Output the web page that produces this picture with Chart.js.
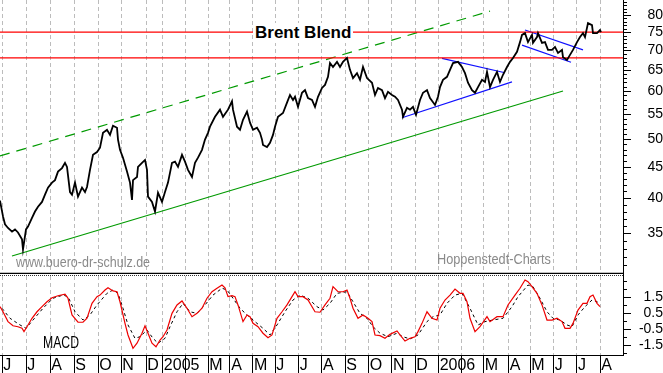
<!DOCTYPE html>
<html><head><meta charset="utf-8">
<script src="https://cdn.jsdelivr.net/npm/chart.js@4/dist/chart.umd.min.js"></script>
<style>
html,body{margin:0;padding:0;background:#fff;}
#wrap{position:relative;width:663px;height:373px;overflow:hidden;background:#fff}
canvas{position:absolute;left:0}
#c1{top:0}
#c2{top:274px}
.t{position:absolute;white-space:nowrap;line-height:1;transform-origin:0 0}
#title{left:253px;top:23px;padding:0 2px;background:#fff;font:bold 17px "Liberation Sans",Arial,sans-serif;color:#000}
#src1{left:16px;top:253px;font:15px "Liberation Sans Narrow","Liberation Sans",sans-serif;color:#8a8a8a}
#src2{left:437px;top:250px;font:15px "Liberation Sans Narrow","Liberation Sans",sans-serif;color:#8a8a8a}
#macdLbl{left:43px;top:334px;font:16px "Liberation Sans Narrow","Liberation Sans",sans-serif;color:#000}
</style></head><body>
<div id="wrap">
<canvas id="c1" width="663" height="274"></canvas>
<canvas id="c2" width="663" height="99"></canvas>
<div class="t" id="title">Brent Blend</div>
<div class="t" id="src1" data-w="134">www.buero-dr-schulz.de</div>
<div class="t" id="src2" data-w="114">Hoppenstedt-Charts</div>
<div class="t" id="macdLbl" data-w="36">MACD</div>
</div>
<script>
const firstSession = 0;
const lastSession = 623;
const monthPos = [2,26,50,74,98,121,146,162.5,185,208,230,252.7,275,298.3,321.7,345,368.3,391.7,415,438.3,461.7,483.3,508.3,530,553.3,576.7,600];
const monthLabels = ['J','J','A','S','O','N','D','2005','','M','A','M','J','J','A','S','O','N','D','2006','','M','A','M','J','J','A'];
const sessions = [0,3,5,8,12,15,18,22,23,26,28,32,35,38,42,45,48,52,55,58,62,65,67,70,72,75,78,82,85,87,90,93,97,100,103,107,110,113,117,118,120,123,127,130,132,133,137,138,142,145,147,148,152,155,158,162,165,168,172,175,178,182,185,188,192,195,198,202,205,208,210,215,220,223,228,232,233,237,240,243,247,250,253,257,260,262,263,267,270,273,275,278,283,287,290,293,295,298,302,305,308,312,315,318,322,325,328,330,333,337,340,343,347,350,353,357,360,363,367,372,375,378,382,385,388,392,395,398,402,403,407,410,413,416,420,423,427,430,435,438,440,443,447,450,453,458,462,465,468,472,475,478,482,485,487,490,493,497,500,503,507,510,513,517,520,522,525,528,532,533,537,538,542,545,548,552,555,558,562,563,567,570,573,577,580,583,585,588,592,593,597,598,600,601];
const brent = [39.6,37.3,36.2,35.7,35.2,35.5,35.1,34.2,32.9,35.5,35.9,37.1,38.0,38.7,39.4,40.5,41.6,42.4,42.8,44.2,44.8,45.7,45.0,40.9,40.5,42.4,40.2,41.6,40.9,41.7,44.5,47.1,47.6,48.4,51.2,51.8,50.8,52.6,52.2,49.9,48.0,46.6,44.2,42.4,39.7,42.8,43.3,45.0,45.7,46.2,44.5,40.2,39.4,38.0,40.8,39.4,40.9,42.4,45.7,45.9,45.0,47.1,45.9,44.5,43.3,45.7,46.6,48.0,49.9,51.2,52.4,54.4,55.9,54.4,55.9,57.7,55.9,52.4,51.8,53.8,55.5,53.2,51.8,52.2,51.2,49.9,48.9,48.5,49.3,50.8,52.4,54.4,55.2,57.4,59.1,58.0,58.7,56.5,59.6,60.2,58.4,58.0,56.5,58.7,60.7,61.4,63.3,66.7,65.7,67.0,65.7,67.0,68.0,65.0,63.0,64.2,62.6,65.7,63.0,61.9,59.1,60.7,60.2,58.4,59.8,59.1,58.7,58.0,55.9,54.4,56.3,55.9,56.5,54.8,58.0,59.6,60.2,58.4,56.9,58.7,60.9,62.6,63.3,65.0,66.7,67.0,65.7,64.2,61.9,60.2,59.6,60.9,62.6,62.1,64.5,60.9,62.6,64.5,62.1,63.8,65.7,67.0,68.0,69.6,72.2,74.2,74.7,72.2,74.2,72.0,73.6,74.7,72.0,72.2,70.1,70.1,70.9,69.3,70.1,68.2,67.5,68.8,70.1,72.2,73.6,74.7,73.6,77.6,77.0,74.7,74.7,75.0,75.6,75.0];
const resistanceLevels = [75, 68];
const upperChannelX = [0, 490];
const upperChannelY = [46.9, 81.2];
const lowerChannelX = [12, 563];
const lowerChannelY = [32.1, 60.0];
const blueLowerX = [402, 512];
const blueLowerY = [54.2, 62.1];
const blueUpperX = [442, 505];
const blueUpperY = [67.9, 64.3];
const flagUpperX = [525, 583];
const flagUpperY = [75.6, 70.1];
const flagLowerX = [522, 571];
const flagLowerY = [71.4, 66.9];
const macdX = [0,3,8,13,18,22,24,27,32,37,42,47,52,58,65,68,72,78,83,87,92,97,100,105,108,113,117,120,125,128,133,137,142,145,148,152,156,160,163,167,172,177,182,187,192,197,202,207,212,217,222,225,228,232,235,238,243,247,250,253,258,263,268,272,277,282,287,292,295,298,303,308,315,320,325,330,333,338,343,347,350,353,358,363,368,372,375,380,385,390,397,400,405,410,415,418,422,427,432,437,440,445,450,455,460,463,467,470,475,480,487,490,497,503,508,515,520,525,528,532,537,542,547,552,557,562,565,570,573,578,583,587,590,593,597,600];
const macd = [0.91,0.59,-0.03,-0.29,-0.35,-0.45,-0.66,-0.35,0.18,0.59,0.91,1.22,1.47,1.60,1.69,1.44,0.39,-0.07,-0.07,0.18,1.12,1.54,1.64,1.96,2.10,1.90,1.85,1.22,-0.14,-0.87,-1.71,-1.39,-0.76,-0.29,-0.76,-1.39,-1.61,-1.19,-0.98,-0.56,0.49,1.02,1.27,0.81,0.28,0.49,0.81,1.44,1.85,2.07,2.27,2.10,1.54,1.60,1.54,1.02,-0.03,0.39,0.28,-0.14,-0.35,-0.76,-1.04,-0.87,0.18,0.59,1.02,1.54,1.85,1.54,1.54,1.33,0.59,0.56,1.02,1.44,2.17,1.85,1.85,1.96,1.44,0.81,0.18,0.39,0.18,-0.03,-0.87,-0.91,-1.08,-0.83,-0.62,-0.87,-1.25,-1.08,-0.98,-0.66,-0.14,0.59,0.18,0.07,0.81,1.33,1.64,2.02,1.75,1.75,1.22,0.18,-0.66,-0.35,0.28,-0.03,0.28,0.28,1.02,1.64,2.07,2.59,2.48,2.17,1.75,1.02,0.07,0.07,0.18,-0.03,-0.45,-0.45,-0.14,0.70,1.12,1.12,1.54,1.64,1.12,0.91];
const signalX = [2,10,20,26,33,43,53,63,68,75,83,90,97,107,113,118,123,128,135,140,147,153,158,165,170,177,183,190,197,205,213,222,227,233,240,247,253,263,270,277,285,293,300,308,317,323,330,337,347,353,360,367,373,380,388,397,403,410,418,427,433,440,447,455,462,470,478,485,493,503,512,518,528,533,540,547,553,560,567,572,578,585,592,597,600];
const signal = [0.81,0.18,-0.24,-0.45,0.07,0.81,1.44,1.64,1.54,0.59,0.07,0.39,1.02,1.75,1.96,1.75,0.81,-0.24,-1.08,-0.98,-0.56,-1.08,-1.39,-1.08,-0.35,0.59,1.12,0.59,0.49,1.02,1.64,2.07,1.96,1.44,0.81,0.39,0.07,-0.45,-0.87,-0.24,0.59,1.33,1.64,1.44,0.91,0.70,1.12,1.75,1.85,1.22,0.49,0.18,-0.35,-0.76,-0.98,-0.76,-0.98,-1.12,-0.87,-0.03,0.28,0.39,1.12,1.64,1.75,0.81,-0.24,-0.03,0.07,0.18,0.91,1.54,2.27,2.17,1.44,0.59,0.18,0.07,-0.24,-0.35,0.39,0.91,1.33,1.22,1.12];
const priceTicks = [35,40,45,50,55,60,65,70,75,80];
const priceMin = 30.1, priceMax = 84.7;
const macdTicks = [-1.5,-0.5,0.5,1.5];
const macdMin = -2.13, macdMax = 2.84;

const zip = (xs, ys) => xs.map((x, i) => ({x, y: ys[i]}));
const priceMinor = []; for (let v = 31; v <= 84; v++) priceMinor.push(v);
const macdMinor = []; for (let v = -2; v <= 2.5; v += 0.5) macdMinor.push(v);
const narrow = '"Liberation Sans Narrow","Liberation Sans",Arial,sans-serif';
const sans = '"Liberation Sans",Arial,sans-serif';
const noPad = s => { s.paddingTop = 0; s.paddingBottom = 0; s.paddingLeft = 0; s.paddingRight = 0; };

// squeeze overlay texts to the narrow widths of the original
document.querySelectorAll('[data-w]').forEach(el => {
  const w = el.getBoundingClientRect().width;
  const k = Math.min(1, (+el.dataset.w) / w);
  el.style.transform = 'scaleX(' + k.toFixed(3) + ')';
});

function lineDs(data, color, width, dash) {
  return {data, borderColor: color, borderWidth: width, borderDash: dash || [], pointRadius: 0, tension: 0, fill: false};
}
function decoPlugin(isMajor, extra) {
  return {
    id: 'deco',
    afterDraw(chart) {
      const ctx = chart.ctx, ys = chart.scales.y, a = chart.chartArea;
      ctx.save();
      ctx.strokeStyle = '#000'; ctx.lineWidth = 1; ctx.setLineDash([]);
      ctx.beginPath();
      ys.ticks.forEach(t => {
        const py = Math.round(ys.getPixelForValue(t.value)) + 0.5;
        const len = isMajor(t.value) ? 8 : 4;
        ctx.moveTo(a.right, py); ctx.lineTo(a.right + len, py);
      });
      ctx.stroke();
      ctx.beginPath();
      ctx.moveTo(Math.round(a.right) + 0.5, 0);
      ctx.lineTo(Math.round(a.right) + 0.5, a.bottom + 1);
      ctx.stroke();
      extra(ctx, a);
      ctx.restore();
    }
  };
}
function monthAxis(withLabels) {
  const ax = {
    type: 'linear', min: firstSession, max: lastSession, bounds: 'data',
    afterBuildTicks: s => { s.ticks = monthPos.map(v => ({value: v})); },
    grid: {color: '#bcbcbc', lineWidth: 1, borderDash: [4, 3]},
    border: {dash: [4, 3]}
  };
  if (withLabels) {
    ax.afterFit = s => { s.height = 18; noPad(s); };
    ax.grid.drawTicks = true; ax.grid.tickLength = 18; ax.grid.tickColor = '#000';
    ax.grid.tickWidth = 1; ax.grid.tickBorderDash = [];
    ax.border.display = true; ax.border.color = '#000'; ax.border.width = 1;
    ax.ticks = {autoSkip: false, maxRotation: 0, minRotation: 0, align: 'start', padding: -17,
      color: '#000', font: {family: narrow, size: 16},
      callback: (v, i) => monthLabels[i] ? '\u200A' + monthLabels[i] : ''};
  } else {
    ax.afterFit = s => { s.height = 0; noPad(s); };
    ax.grid.drawTicks = false;
    ax.border.display = false;
    ax.ticks = {display: false, autoSkip: false};
  }
  return ax;
}

new Chart(document.getElementById('c1'), {
  type: 'line',
  data: {datasets: [
    lineDs(zip(sessions, brent), '#000', 1.8),
    ...resistanceLevels.map(v => lineDs([{x: firstSession, y: v}, {x: lastSession, y: v}], '#ff0000', 1.2)),
    lineDs(zip(upperChannelX, upperChannelY), '#009a00', 1.2, [10, 7]),
    lineDs(zip(lowerChannelX, lowerChannelY), '#009a00', 1.2),
    lineDs(zip(blueLowerX, blueLowerY), '#1010ff', 1.2),
    lineDs(zip(blueUpperX, blueUpperY), '#1010ff', 1.2),
    lineDs(zip(flagUpperX, flagUpperY), '#1010ff', 1.2),
    lineDs(zip(flagLowerX, flagLowerY), '#1010ff', 1.2)
  ]},
  options: {
    responsive: false, animation: false,
    layout: {autoPadding: false, padding: {left: 0, right: 0, top: 0, bottom: 1}},
    plugins: {legend: {display: false}, tooltip: {enabled: false}},
    scales: {
      x: monthAxis(false),
      y: {type: 'logarithmic', position: 'right', min: priceMin, max: priceMax, bounds: 'data',
        afterBuildTicks: s => { s.ticks = priceMinor.map(v => ({value: v})); },
        afterFit: s => { s.width = 40; noPad(s); },
        grid: {display: false, drawTicks: false},
        border: {display: false},
        ticks: {autoSkip: false, crossAlign: 'far', padding: 21.5, color: '#000',
          font: {family: sans, size: 14},
          callback: v => priceTicks.includes(v) ? String(v) : ''}
      }
    }
  },
  plugins: [decoPlugin(v => priceTicks.includes(v), (ctx, a) => {
    ctx.lineWidth = 1.3;
    ctx.beginPath(); ctx.moveTo(0, a.bottom + 0.5); ctx.lineTo(a.right + 1, a.bottom + 0.5); ctx.stroke();
  })]
});

new Chart(document.getElementById('c2'), {
  type: 'line',
  data: {datasets: [
    lineDs(zip(macdX, macd), '#ee0000', 1.2),
    lineDs(zip(signalX, signal), '#000', 1, [3, 3])
  ]},
  options: {
    responsive: false, animation: false,
    layout: {autoPadding: false, padding: {left: 0, right: 0, top: 2, bottom: 0}},
    plugins: {legend: {display: false}, tooltip: {enabled: false}},
    scales: {
      x: monthAxis(true),
      y: {type: 'linear', position: 'right', min: macdMin, max: macdMax, bounds: 'data',
        afterBuildTicks: s => { s.ticks = macdMinor.map(v => ({value: v})); },
        afterFit: s => { s.width = 40; noPad(s); },
        grid: {display: false, drawTicks: false},
        border: {display: false},
        ticks: {autoSkip: false, crossAlign: 'far', padding: 12.5, color: '#000',
          font: {family: sans, size: 14},
          callback: v => macdTicks.includes(v) ? v.toFixed(1) : ''}
      }
    }
  },
  plugins: [decoPlugin(v => macdTicks.includes(v), (ctx, a) => {
    ctx.strokeStyle = '#333'; ctx.setLineDash([1, 1]);
    ctx.beginPath(); ctx.moveTo(0, 1.5); ctx.lineTo(a.right, 1.5); ctx.stroke();
  })]
});
</script>
</body></html>
